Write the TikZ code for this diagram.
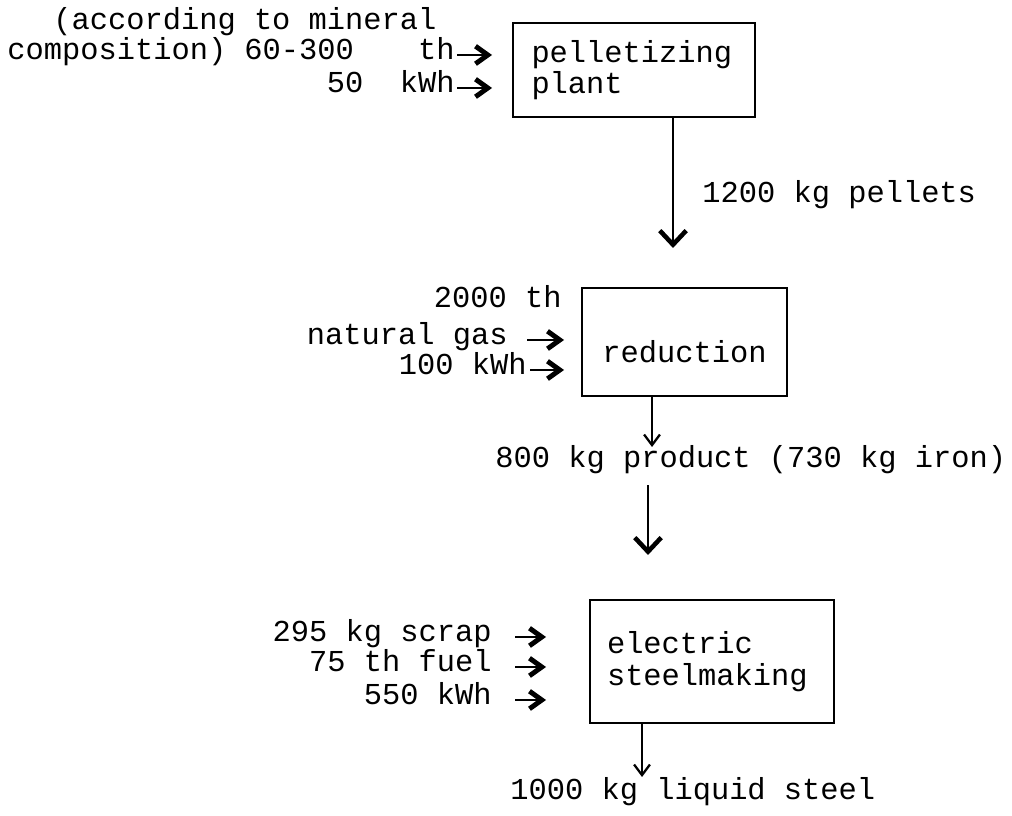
\documentclass[tikz,border=0pt]{standalone}
\usepackage{fontspec}
\setmonofont{Liberation Mono}
\usetikzlibrary{arrows.meta}
\begin{document}
\begin{tikzpicture}[
	font=\ttfamily\fontsize{17.3}{18}\selectfont,
	stage/.style={draw,line width=1.1pt,rectangle,inner sep=0pt,align=left},
	tag/.style={inner sep=0pt,text height=0.75em,text depth=0.25em,yshift=-0.1cm},
	feed/.style={line width=1.6pt,-{Straight Barb[length=7pt,width=10pt,line width=2.8pt]}},
	flow/.style={line width=1.4pt,-{Straight Barb[length=8pt,width=15pt,line width=2.6pt]}},
	thinflow/.style={line width=1.1pt,-{Straight Barb[length=6pt,width=9pt,line width=1.3pt]}}
	]
	\useasboundingbox (0,0) rectangle (20.24,16.32);
	
	\node[stage,minimum width=4.84cm,minimum height=1.88cm,text width=4.1cm] (pel) at (12.68,14.92) {pelletizing\\plant};
	\node[stage,minimum width=4.1cm,minimum height=2.16cm] (red) at (13.69,9.48) {\raisebox{-0.2cm}[\height][\depth]{reduction}};
	\node[stage,minimum width=4.88cm,minimum height=2.46cm,text width=4.2cm] (steel) at (14.24,3.09) {electric\\steelmaking};
	
	\node[tag,anchor=west] (mineral) at (1.06,15.92) {(according to mineral};
	\node[tag,anchor=west] (compo) at (0.14,15.32) {composition) 60-300};
	\node[tag,anchor=east] (th1) at (9.1,15.32) {th};
	\node[tag,anchor=east] (kwh1) at (9.1,14.66) {50~~kWh};
	\draw[feed,shorten <=0.04cm,shorten >=0.4cm] (th1.east) -- (th1.east -| pel.west);
	\draw[feed,shorten <=0.04cm,shorten >=0.4cm] (kwh1.east) -- (kwh1.east -| pel.west);
	
	\coordinate (pelout) at (13.46,11.36);
	\draw[flow] (pel.south -| pelout) -- (pelout);
	\node[tag,anchor=west] (pellets) at (14.04,12.46) {1200 kg pellets};
	
	\node[tag,anchor=east] (th2) at (11.24,10.36) {2000 th};
	\node[tag,anchor=east] (gas) at (10.16,9.62) {natural gas};
	\node[tag,anchor=east] (kwh2) at (10.54,9.02) {100 kWh};
	\draw[feed,shorten <=0.38cm,shorten >=0.34cm] (gas.east) -- (gas.east -| red.west);
	\draw[feed,shorten <=0.06cm,shorten >=0.34cm] (kwh2.east) -- (kwh2.east -| red.west);
	
	\coordinate (redout) at (13.04,7.38);
	\draw[thinflow] (red.south -| redout) -- (redout);
	\node[tag,anchor=west] (product) at (9.9,7.16) {800 kg product (730 kg iron)};
	\coordinate (steelin) at (12.96,5.22);
	\draw[flow,shorten <=0.26cm] (product.south -| steelin) -- (steelin);
	
	\node[tag,anchor=east] (scrap) at (9.84,3.68) {295 kg scrap};
	\node[tag,anchor=east] (fuel) at (9.84,3.08) {75 th fuel};
	\node[tag,anchor=east] (kwh3) at (9.84,2.42) {550 kWh};
	\foreach \src in {scrap,fuel,kwh3}
	\draw[feed,shorten <=0.46cm,shorten >=0.86cm] (\src.east) -- (\src.east -| steel.west);
	
	\coordinate (steelout) at (12.84,0.78);
	\draw[thinflow] (steel.south -| steelout) -- (steelout);
	\node[tag,anchor=west] (liquid) at (10.2,0.52) {1000 kg liquid steel};
\end{tikzpicture}
\end{document}
